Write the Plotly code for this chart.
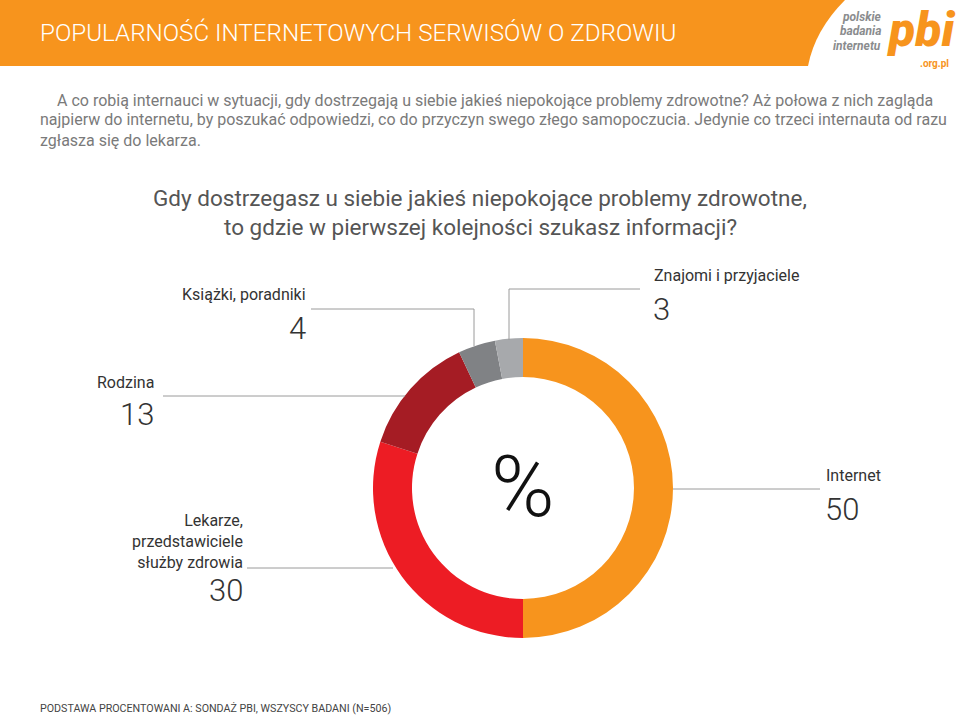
import plotly.graph_objects as go

W, H = 960, 716
categories = ["Internet", "Lekarze, przedstawiciele służby zdrowia", "Rodzina", "Książki, poradniki", "Znajomi i przyjaciele"]
values = [50, 30, 13, 4, 3]
colors = ["#F7941D", "#ED1C24", "#A51C24", "#808285", "#A7A9AC"]

title_text = "POPULARNOŚĆ INTERNETOWYCH SERWISÓW O ZDROWIU"
para_lines = [
    "A co robią internauci w sytuacji, gdy dostrzegają u siebie jakieś niepokojące problemy zdrowotne? Aż połowa z nich zagląda",
    "najpierw do internetu, by poszukać odpowiedzi, co do przyczyn swego złego samopoczucia. Jedynie co trzeci internauta od razu",
    "zgłasza się do lekarza.",
]
question = ["Gdy dostrzegasz u siebie jakieś niepokojące problemy zdrowotne,",
            "to gdzie w pierwszej kolejności szukasz informacji?"]
footer = "PODSTAWA PROCENTOWANI A: SONDAŻ PBI, WSZYSCY BADANI (N=506)"

FONT = "Roboto"


def px(x):
    return x / W


def py(y):
    return 1 - y / H


fig = go.Figure()
fig.add_trace(go.Pie(
    labels=categories, values=values, hole=0.74, sort=False, direction="clockwise",
    rotation=0, marker=dict(colors=colors, line=dict(width=0)), textinfo="none",
    hoverinfo="label+value", showlegend=False,
    domain=dict(x=[px(373), px(673)], y=[py(638), py(338)]),
))

shapes = []
# header band
shapes.append(dict(type="rect", xref="paper", yref="paper", x0=0, x1=1, y0=py(66), y1=1,
                   fillcolor="#F7941D", line=dict(width=0), layer="below"))
# white curved logo area
path = (f"M {px(845)},{py(0)} Q {px(815)},{py(30)} {px(808)},{py(66)} "
        f"L {px(960)},{py(66)} L {px(960)},{py(0)} Z")
shapes.append(dict(type="path", xref="paper", yref="paper", path=path,
                   fillcolor="white", line=dict(width=0), layer="below"))

LC = "#9a9a9a"


def seg(x0, y0, x1, y1):
    shapes.append(dict(type="line", xref="paper", yref="paper", x0=px(x0), y0=py(y0),
                       x1=px(x1), y1=py(y1), line=dict(color=LC, width=1)))


# leader lines
seg(509, 340, 509, 289); seg(509, 289, 640, 289)          # Znajomi
seg(474, 346, 474, 309); seg(474, 309, 311, 309)          # Książki
seg(163, 396, 405, 396)                                    # Rodzina
seg(247, 568, 393, 568)                                    # Lekarze
seg(673, 489, 820, 489)                                    # Internet

ann = []


def text(x, y, s, size, color="#333", anchor="left", yanchor="middle", weight=None, family=FONT, style=None):
    f = dict(family=family, size=size, color=color)
    if weight:
        f["weight"] = weight
    if style:
        f["style"] = style
    ann.append(dict(xref="paper", yref="paper", x=px(x), y=py(y), text=s, showarrow=False,
                    xanchor=anchor, yanchor=yanchor, font=f, align=anchor if anchor != "center" else "center"))


text(38, 33, title_text, 24.2, color="white", weight=300)
# logo
text(883, 17, "polskie", 12, color="#8a8c8e", anchor="right", weight=700, style="italic")
text(883, 31, "badania", 12, color="#8a8c8e", anchor="right", weight=700, style="italic")
text(883, 46, "internetu", 12, color="#8a8c8e", anchor="right", weight=700, style="italic")
text(921, 29, "pbi", 48, color="#F7941D", anchor="center", weight=900, style="italic")
text(951, 63, ".org.pl", 10, color="#F7941D", anchor="right", weight=700)

# paragraph
text(55, 100, para_lines[0], 16, color="#7a7a7a")
text(38, 120, para_lines[1], 16, color="#7a7a7a")
text(38, 141, para_lines[2], 16, color="#7a7a7a")

# question
text(480, 198, question[0], 22.5, color="#555", anchor="center")
text(480, 227, question[1], 22.5, color="#555", anchor="center")

# labels and values
text(652, 275, categories[4], 16)
text(651, 309, str(values[4]), 31, weight=300)
text(308, 294, categories[3], 16, anchor="right")
text(308, 328, str(values[3]), 31, anchor="right", weight=300)
text(156, 382, categories[2], 16, anchor="right")
text(156, 414, str(values[2]), 31, anchor="right", weight=300)
text(245, 541, "Lekarze,<br>przedstawiciele<br>służby zdrowia", 16, anchor="right")
text(245, 590, str(values[1]), 31, anchor="right", weight=300)
text(824, 475, categories[0], 16)
text(823, 509, str(values[0]), 31, weight=300)

text(523, 486, "%", 86, color="#111", anchor="center", weight=300)

text(38, 708, footer, 10.7, color="#444")

fig.update_layout(width=W, height=H, margin=dict(l=0, r=0, t=0, b=0),
                  paper_bgcolor="white", plot_bgcolor="white",
                  shapes=shapes, annotations=ann)
fig.write_html("out.html", config={"displayModeBar": False},
               post_script="document.body.style.margin='0px';document.body.style.overflow='hidden';")
